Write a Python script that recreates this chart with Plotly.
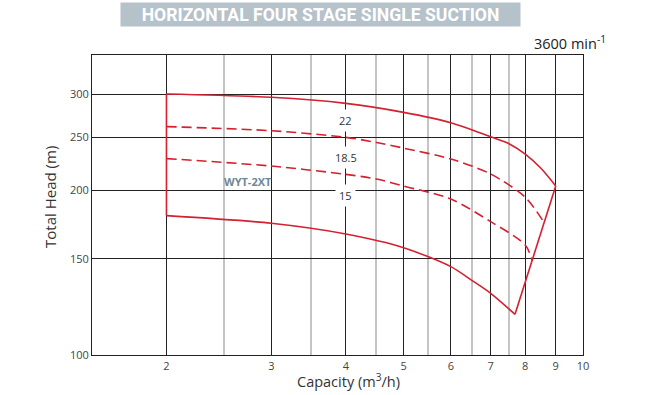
import plotly.graph_objects as go
import math

# ---- data ----
top_q = [2, 3, 4, 5, 6, 7, 7.5, 8, 8.5, 9]
top_h = [300.3, 296.2, 288.7, 278.0, 266.1, 250.8, 243.9, 233.2, 219.6, 203.8]

mid_q = [2, 3, 4, 4.5, 5, 6, 7, 8, 8.61]
mid_h = [261.8, 257.3, 250.2, 244.9, 239.1, 228.4, 214.4, 194.4, 174.6]

low_q = [2, 3, 4, 4.5, 5, 6, 7, 8, 8.22]
low_h = [228.8, 221.7, 214.1, 209.9, 203.8, 193.0, 175.4, 159.0, 148.6]

bot_q = [2, 3, 4, 5, 6, 6.5, 7, 7.69]
bot_h = [179.9, 174.2, 166.5, 157.2, 145.1, 137.1, 129.7, 118.7]

x_ticks = [2, 3, 4, 5, 6, 7, 8, 9, 10]
x_minor = [2.5, 3.5, 4.5, 5.5, 6.5, 7.5]
y_ticks = [100, 150, 200, 250, 300]

power_labels = ["22", "18.5", "15"]
power_q = [4, 4, 4]
power_h = [269.1, 230.0, 196.0]

model_label = "WYT-2XT"
model_q, model_h = 2.74, 207.5

RED = "#d42030"
FONT = "Open Sans"
LW = 1.6
DASH = "10px,5px"

fig = go.Figure()

# head curves (max / min impeller)
fig.add_trace(go.Scatter(x=top_q, y=top_h, mode="lines",
                         line=dict(color=RED, width=LW, shape="spline", smoothing=0.8),
                         hoverinfo="skip"))
fig.add_trace(go.Scatter(x=bot_q, y=bot_h, mode="lines",
                         line=dict(color=RED, width=LW, shape="spline", smoothing=0.8),
                         hoverinfo="skip"))
# left and right edges of the envelope
fig.add_trace(go.Scatter(x=[bot_q[0], top_q[0]], y=[bot_h[0], top_h[0]], mode="lines",
                         line=dict(color=RED, width=LW), hoverinfo="skip"))
fig.add_trace(go.Scatter(x=[bot_q[-1], top_q[-1]], y=[bot_h[-1], top_h[-1]], mode="lines",
                         line=dict(color=RED, width=LW), hoverinfo="skip"))
# intermediate (dashed) curves
fig.add_trace(go.Scatter(x=mid_q, y=mid_h, mode="lines",
                         line=dict(color=RED, width=LW, dash=DASH, shape="spline", smoothing=0.8),
                         hoverinfo="skip"))
fig.add_trace(go.Scatter(x=low_q, y=low_h, mode="lines",
                         line=dict(color=RED, width=LW, dash=DASH, shape="spline", smoothing=0.8),
                         hoverinfo="skip"))

annotations = []
for t, q, h in zip(power_labels, power_q, power_h):
    annotations.append(dict(x=math.log10(q), y=math.log10(h), xref="x", yref="y",
                            text=t, showarrow=False, bgcolor="white",
                            xanchor="center", yanchor="middle",
                            font=dict(family=FONT, size=11, color="#333333"),
                            borderpad=3))
annotations.append(dict(x=math.log10(model_q), y=math.log10(model_h), xref="x", yref="y",
                        text="<b>" + model_label + "</b>", showarrow=False,
                        xanchor="center", yanchor="middle",
                        font=dict(family=FONT, size=11, color="#6f8796")))
annotations.append(dict(x=0.4654, y=1.1357, xref="paper", yref="paper",
                        xanchor="center", yanchor="middle",
                        text="<b>HORIZONTAL FOUR STAGE SINGLE SUCTION</b>", showarrow=False,
                        bgcolor="#b5c2ca", width=397, height=21, borderpad=1,
                        font=dict(family="Roboto", size=17.6, color="white")))
annotations.append(dict(x=1.051, y=1.043, xref="paper", yref="paper",
                        xanchor="right", yanchor="middle",
                        text="3600 min<sup>-1</sup>", showarrow=False,
                        font=dict(family=FONT, size=14.5, color="#222222")))
annotations.append(dict(x=-0.0855, y=0.527, xref="paper", yref="paper", textangle=-90,
                        xanchor="center", yanchor="middle",
                        text="Total Head (m)", showarrow=False,
                        font=dict(family=FONT, size=15, color="#333333")))
annotations.append(dict(x=0.5234, y=-0.086, xref="paper", yref="paper",
                        xanchor="center", yanchor="middle",
                        text="Capacity (m<sup>3</sup>/h)", showarrow=False,
                        font=dict(family=FONT, size=14.5, color="#333333")))

fig.update_layout(
    width=650, height=395,
    margin=dict(l=92, r=67, t=55, b=40),
    paper_bgcolor="white", plot_bgcolor="white",
    showlegend=False,
    annotations=annotations,
    xaxis=dict(type="log", range=[math.log10(1.5), 1],
               tickmode="array", tickvals=x_ticks, ticktext=[str(v) for v in x_ticks],
               showgrid=True, gridcolor="#222222", gridwidth=1,
               minor=dict(tickmode="array", tickvals=x_minor, showgrid=True,
                          gridcolor="#c4c4c4", gridwidth=1.5, ticks=""),
               showline=True, linecolor="#222222", linewidth=1, mirror=True,
               ticks="", zeroline=False, ticklabelstandoff=1,
               tickfont=dict(family=FONT, size=11, color="#444444")),
    yaxis=dict(type="log", range=[2, 2.549],
               tickmode="array", tickvals=y_ticks, ticktext=[str(v) for v in y_ticks],
               showgrid=True, gridcolor="#222222", gridwidth=1,
               showline=True, linecolor="#222222", linewidth=1, mirror=True,
               ticks="", zeroline=False,
               tickfont=dict(family=FONT, size=11, color="#444444")),
)

fig.write_html("out.html", config={"displayModeBar": False},
               post_script="document.body.style.margin='0';")
